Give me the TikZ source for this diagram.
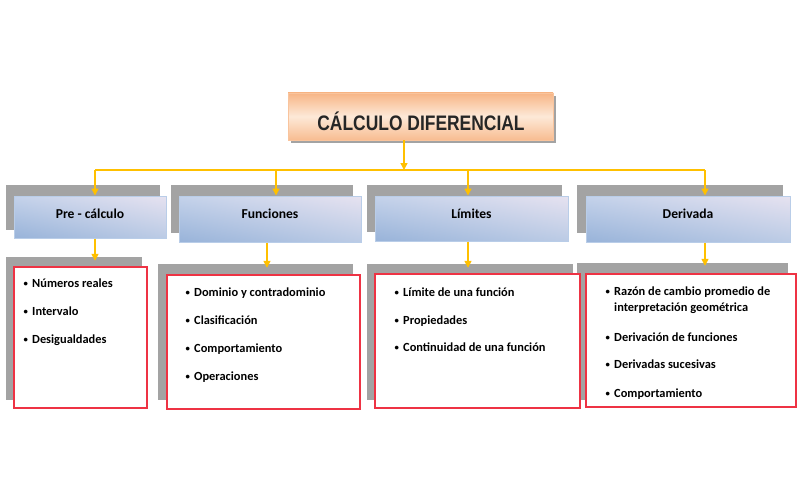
\documentclass[tikz,border=0pt]{standalone}
\usepackage{fontspec}
\usepackage{graphicx}
\setmainfont{Carlito}
\newfontfamily\titlefont[FakeStretch=0.83]{Liberation Sans}
\usetikzlibrary{arrows.meta,fit,shadings}
\definecolor{gold}{HTML}{FFC000}
\definecolor{shgray}{HTML}{A3A3A3}
\definecolor{redb}{HTML}{EE3344}
\definecolor{blueb}{HTML}{B9CDE8}
\definecolor{orA}{HTML}{F7B585}
\definecolor{orB}{HTML}{FDE9D8}
\definecolor{bUL}{HTML}{C4D2EA}
\definecolor{bUR}{HTML}{E6E2F0}
\definecolor{bLL}{HTML}{98B3D9}
\definecolor{bLR}{HTML}{BBCBE5}
\newcommand{\bul}{\makebox[7pt][l]{\kern-1.5pt\raisebox{0.5pt}{\scalebox{0.7}{•}}}}
\begin{document}
\begin{tikzpicture}[x=1pt,y=-1pt,
  shbox/.style={fill=shgray,draw=none,inner sep=0pt},
  titlebox/.style={draw=orA!80!white,line width=0.8pt,top color=orA,bottom color=orA!90!white,middle color=orB,inner sep=0pt},
  hdr/.style={draw=blueb,line width=1pt,upper left=bUL,upper right=bUR,lower left=bLL,lower right=bLR,inner sep=0pt},
  hdrtext/.style={font=\bfseries\fontsize{13.6}{14}\selectfont,text=black},
  redbox/.style={draw=redb,line width=1.2pt,fill=white,inner sep=0pt},
  item/.style={anchor=base west,inner sep=0pt,font=\bfseries\fontsize{12.4}{14}\selectfont,text=black},
  conn/.style={draw=gold,line width=1.5pt},
  arr/.style={conn,-{Triangle[length=7pt,width=7pt]}}]
\useasboundingbox[fill=white] (0,0) rectangle (800,500);
% title
\node[shbox,fit={(291,96)(556,143)}] (tsh) {};
\node[titlebox,fit={(288,93)(553,140)}] (title) {};
\node[font=\titlefont\bfseries\fontsize{21}{21}\selectfont,text=black!85] (ttext) at (421,121) {CÁLCULO DIFERENCIAL};
% connectors top
\coordinate (jt) at (404,170);
\coordinate (a1) at (95,170);
\coordinate (a2) at (276,170);
\coordinate (a3) at (468,170);
\coordinate (a4) at (705,170);
\draw[conn] (a1) -- (a4);
% header shadows
\node[shbox,fit={(6,185)(160,230)}] (s1) {};
\node[shbox,fit={(171,185)(353,233)}] (s2) {};
\node[shbox,fit={(367,185)(562,232)}] (s3) {};
\node[shbox,fit={(577,185)(783,233)}] (s4) {};
% headers
\node[hdr,fit={(14,196)(166,238)}] (h1) {};
\node[hdr,fit={(179,196)(361,242)}] (h2) {};
\node[hdr,fit={(375,196)(568,241)}] (h3) {};
\node[hdr,fit={(586,196)(790,242)}] (h4) {};
\coordinate (hy) at (0,213.5);
\node[hdrtext] (t1) at (h1.center |- hy) {Pre - cálculo};
\node[hdrtext] (t2) at (h2.center |- hy) {Funciones};
\node[hdrtext] (t3) at (h3.center |- hy) {Límites};
\node[hdrtext] (t4) at (h4.center |- hy) {Derivada};
\draw[arr] (title.south -| jt) -- (jt);
\draw[arr] (a1) -- (h1.north -| a1);
\draw[arr] (a2) -- (h2.north -| a2);
\draw[arr] (a3) -- (h3.north -| a3);
\draw[arr] (a4) -- (h4.north -| a4);
% lower shadows
\node[shbox,fit={(6,257)(142,400)}] (l1) {};
\node[shbox,fit={(158,264)(353,400)}] (l2) {};
\node[shbox,fit={(367,264)(573,400)}] (l3) {};
\node[shbox,fit={(577,263)(788,400)}] (l4) {};
% lower arrows
\coordinate (b1) at (95,0);
\coordinate (b2) at (267,0);
\coordinate (b3) at (468,0);
\coordinate (b4) at (705,0);
\draw[arr] (h1.south -| b1) -- ([yshift=-4pt]l1.north -| b1);
\draw[arr] (h2.south -| b2) -- ([yshift=-4pt]l2.north -| b2);
\draw[arr] (h3.south -| b3) -- ([yshift=-4pt]l3.north -| b3);
\draw[arr] (h4.south -| b4) -- ([yshift=-3pt]l4.north -| b4);
% red boxes
\node[redbox,fit={(14,267)(147,408)}] (r1) {};
\node[redbox,fit={(167,275)(360,409)}] (r2) {};
\node[redbox,fit={(375,274)(580,408)}] (r3) {};
\node[redbox,fit={(586,274)(796,407)}] (r4) {};
% items
\node[item] (p1) at (25,287) {\bul Números reales};
\node[item] (p2) at (25,315) {\bul Intervalo};
\node[item] (p3) at (25,343) {\bul Desigualdades};
\node[item] (f1) at (187,296) {\bul Dominio y contradominio};
\node[item] (f2) at (187,324) {\bul Clasificación};
\node[item] (f3) at (187,352) {\bul Comportamiento};
\node[item] (f4) at (187,380) {\bul Operaciones};
\node[item] (m1) at (396,296) {\bul Límite de una función};
\node[item] (m2) at (396,324) {\bul Propiedades};
\node[item] (m3) at (396,351) {\bul Continuidad de una función};
\node[item] (d1) at (607,295) {\bul Razón de cambio promedio de};
\node[item] (d1b) at (614,311) {interpretación geométrica};
\node[item] (d2) at (607,341) {\bul Derivación de funciones};
\node[item] (d3) at (607,368) {\bul Derivadas sucesivas};
\node[item] (d4) at (607,397) {\bul Comportamiento};
\end{tikzpicture}
\end{document}
